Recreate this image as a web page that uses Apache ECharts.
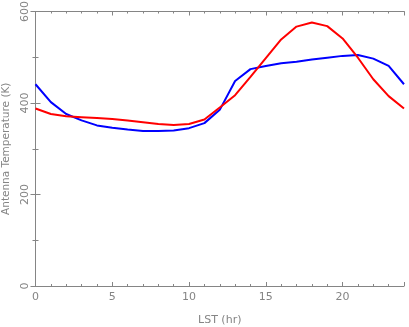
<!DOCTYPE html>
<html><head><meta charset="utf-8">
<script src="https://cdn.jsdelivr.net/npm/echarts@6/dist/echarts.min.js"></script>
<style>html,body{margin:0;padding:0;background:#fff}#c{width:409px;height:327px}</style>
</head><body><div id="c"></div>
<script>
const hours = [0,1,2,3,4,5,6,7,8,9,10,11,12,13,14,15,16,17,18,19,20,21,22,23,24];
const blueValues = [441,402,376,362,351,346,342,339,339,340,345,356,385,448,474,481,487,490,495,499,503,505,497,481,441];
const redValues = [388,376,371,369,367,365,362,358,354,352,354,364,390,417,457,498,539,567,576,568,541,499,452,415,388];
const xMajorTicks = [0,5,10,15,20];
const yTicks = [0,200,400,600];

const gray = '#858585';
const font = 'DejaVu Sans';
function axisX(pos, major, labels) {
  return {
    type:'value', position:pos, min:0, max:24, interval: major?5:1,
    axisLine:{show:major, lineStyle:{color:gray, width:1}},
    axisTick:{show:true, inside:true, length: major?4:2, lineStyle:{color:gray}},
    axisLabel:{show:labels, color:gray, fontFamily:font, fontSize:11, margin:6,
      formatter: v => (xMajorTicks.indexOf(v) >= 0 ? String(v) : '')},
    splitLine:{show:false},
    name: labels ? 'LST (hr)' : '', nameLocation:'middle', nameGap:29,
    nameTextStyle:{color:gray, fontFamily:font, fontSize:11}
  };
}
function axisY(pos, labels) {
  return {
    type:'value', position:pos, min:0, max:600, interval:200,
    axisLine:{show:true, lineStyle:{color:gray, width:1}},
    axisTick:{show:true, inside:true, length:5, lineStyle:{color:gray}},
    minorTick:{show:true, splitNumber:2, length:3, lineStyle:{color:gray}},
    axisLabel:{show:labels, rotate:90, color:gray, fontFamily:font, fontSize:11, margin:5,
      formatter: v => (yTicks.indexOf(v) >= 0 ? String(v) : '')},
    splitLine:{show:false}, minorSplitLine:{show:false},
    name: labels ? 'Antenna Temperature (K)' : '', nameLocation:'middle', nameGap:20,
    nameTextStyle:{color:gray, fontFamily:font, fontSize:10.5}
  };
}
const chart = echarts.init(document.getElementById('c'), null, {renderer:'canvas'});
chart.setOption({
  animation:false,
  backgroundColor:'#fff',
  grid:{left:35.5, right:5, top:11.5, bottom:41, containLabel:false, outerBoundsMode:'none'},
  xAxis:[axisX('bottom',true,true), axisX('bottom',false,false), axisX('top',true,false), axisX('top',false,false)],
  yAxis:[axisY('left',true), axisY('right',false)],
  series:[
    {type:'line', data:hours.map((h,i)=>[h,blueValues[i]]), showSymbol:false, lineStyle:{color:'#0000ff', width:2}, itemStyle:{color:'#0000ff'}, xAxisIndex:0, yAxisIndex:0},
    {type:'line', data:hours.map((h,i)=>[h,redValues[i]]), showSymbol:false, lineStyle:{color:'#ff0000', width:2}, itemStyle:{color:'#ff0000'}, xAxisIndex:0, yAxisIndex:0}
  ]
});
</script></body></html>
